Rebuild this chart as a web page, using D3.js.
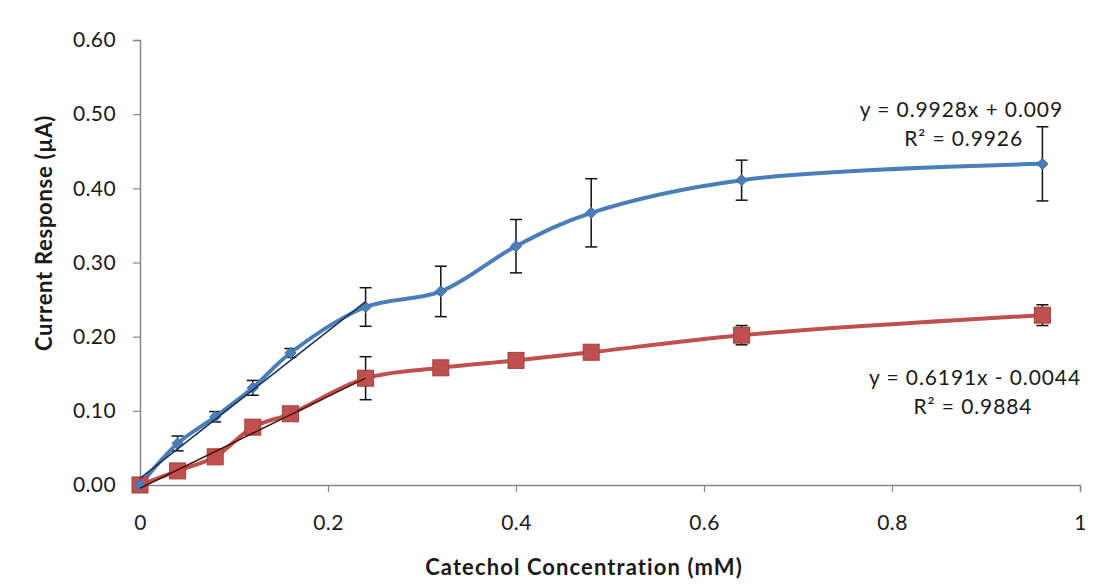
<!DOCTYPE html>
<html>
<head>
<meta charset="utf-8">
<script src="https://cdn.jsdelivr.net/npm/d3@7"></script>
<style>
  html, body { margin: 0; padding: 0; background: #ffffff; }
  svg { display: block; }
</style>
</head>
<body>
<svg id="chart" width="1104" height="585"></svg>
<script>
// Catechol concentration (mM)
const concentration = [0, 0.04, 0.08, 0.12, 0.16, 0.24, 0.32, 0.40, 0.48, 0.64, 0.96];

// Blue series: current response (µA) and its standard deviation
const blueValues = [0, 0.056, 0.092, 0.131, 0.178, 0.240, 0.261, 0.322, 0.367, 0.411, 0.433];
const blueErrors = [0, 0.010, 0.007, 0.010, 0.006, 0.026, 0.034, 0.036, 0.046, 0.027, 0.050];

// Red series: current response (µA) and its standard deviation
const redValues = [0, 0.019, 0.038, 0.078, 0.096, 0.144, 0.158, 0.168, 0.179, 0.202, 0.229];
const redErrors = [0, 0.004, 0.004, 0.005, 0.005, 0.029, 0.005, 0.004, 0.004, 0.013, 0.014];

// Linear fits over the low-concentration range
const blueFit = { slope: 0.9928, intercept: 0.009, xMax: 0.24 };
const redFit = { slope: 0.6191, intercept: -0.0044, xMax: 0.24 };
const blueEquation = ["y = 0.9928x + 0.009", "R² = 0.9926"];
const redEquation = ["y = 0.6191x - 0.0044", "R² = 0.9884"];

const xTicks = [0, 0.2, 0.4, 0.6, 0.8, 1];
const yTicks = [0, 0.1, 0.2, 0.3, 0.4, 0.5, 0.6];

const svg = d3.select("#chart");
const x = d3.scaleLinear().domain([0, 1]).range([140, 1080]);
const y = d3.scaleLinear().domain([0, 0.6]).range([485, 40]);

const axisColor = "#868686";
const labelFont = "Lato, 'Noto Sans', sans-serif";
const textColor = "#1a1a1a";

// Y axis
const yAxis = svg.append("g")
  .attr("transform", `translate(${x(0)},0)`)
  .call(d3.axisLeft(y).tickValues(yTicks).tickFormat(d3.format(".2f")).tickSize(7).tickPadding(17));
yAxis.select(".domain").attr("stroke", axisColor).attr("stroke-width", 1.5);
yAxis.selectAll(".tick line").attr("stroke", axisColor).attr("stroke-width", 1.2);
yAxis.selectAll(".tick text")
  .attr("font-family", labelFont).attr("font-size", 21).attr("letter-spacing", 0.4)
  .attr("fill", textColor);

// X axis
const xAxis = svg.append("g")
  .attr("transform", `translate(0,${y(0)})`)
  .call(d3.axisBottom(x).tickValues(xTicks).tickFormat(d => d3.format("")(d)).tickSize(7).tickPadding(23));
xAxis.select(".domain").attr("stroke", axisColor).attr("stroke-width", 1.5);
xAxis.selectAll(".tick line").attr("stroke", axisColor).attr("stroke-width", 1.2);
xAxis.selectAll(".tick text")
  .attr("font-family", labelFont).attr("font-size", 21).attr("letter-spacing", 0.4)
  .attr("fill", textColor);

// Axis titles
svg.append("text")
  .attr("transform", `translate(52,233) rotate(-90)`)
  .attr("text-anchor", "middle")
  .attr("font-family", labelFont).attr("font-weight", "bold").attr("font-size", 22)
  .attr("letter-spacing", 0.7)
  .attr("fill", textColor)
  .text("Current Response (µA)");
svg.append("text")
  .attr("x", 584).attr("y", 575)
  .attr("text-anchor", "middle")
  .attr("font-family", labelFont).attr("font-weight", "bold").attr("font-size", 22)
  .attr("letter-spacing", 1.1)
  .attr("fill", textColor)
  .text("Catechol Concentration (mM)");

const blue = concentration.map((c, i) => ({ c, v: blueValues[i], e: blueErrors[i] }));
const red = concentration.map((c, i) => ({ c, v: redValues[i], e: redErrors[i] }));

// Error bars
function errorBars(data) {
  const g = svg.append("g").attr("stroke", "#111").attr("stroke-width", 1.5);
  data.filter(d => d.e > 0).forEach(d => {
    const cx = x(d.c), top = y(d.v + d.e), bot = y(d.v - d.e);
    g.append("line").attr("x1", cx).attr("x2", cx).attr("y1", top).attr("y2", bot);
    g.append("line").attr("x1", cx - 6).attr("x2", cx + 6).attr("y1", top).attr("y2", top);
    g.append("line").attr("x1", cx - 6).attr("x2", cx + 6).attr("y1", bot).attr("y2", bot);
  });
}
errorBars(blue);
errorBars(red);

// Smoothed series lines
const line = d3.line().x(d => x(d.c)).y(d => y(d.v)).curve(d3.curveCatmullRom.alpha(0.5));
svg.append("path").datum(red).attr("d", line)
  .attr("fill", "none").attr("stroke", "#c0504d").attr("stroke-width", 4);
svg.append("path").datum(blue).attr("d", line)
  .attr("fill", "none").attr("stroke", "#4a7ebb").attr("stroke-width", 4);

// Markers
svg.append("g").selectAll("rect").data(red).join("rect")
  .attr("x", d => x(d.c) - 8).attr("y", d => y(d.v) - 8)
  .attr("width", 16).attr("height", 16)
  .attr("fill", "#c0504d").attr("stroke", "#a0403d").attr("stroke-width", 1);
const diamond = d3.symbol().type(d3.symbolDiamond2).size(80);
svg.append("g").selectAll("path").data(blue).join("path")
  .attr("transform", d => `translate(${x(d.c)},${y(d.v)})`)
  .attr("d", diamond)
  .attr("fill", "#4a7ebb").attr("stroke", "#3c6ea8").attr("stroke-width", 1);

// Linear trendlines
function trend(fit, color) {
  svg.append("line")
    .attr("x1", x(0)).attr("y1", y(fit.intercept))
    .attr("x2", x(fit.xMax)).attr("y2", y(fit.slope * fit.xMax + fit.intercept))
    .attr("stroke", color).attr("stroke-width", 1.5);
}
trend(blueFit, "#1e2f4a");
trend(redFit, "#4a1414");

// Trendline equations
function equation(lines, xs, ys, anchor) {
  lines.forEach((t, i) => {
    svg.append("text")
      .attr("x", xs[i]).attr("y", ys[i])
      .attr("text-anchor", anchor)
      .attr("font-family", labelFont).attr("font-size", 21).attr("letter-spacing", 0.9)
      .attr("fill", textColor)
      .text(t);
  });
}
equation(blueEquation, [1063, 1023], [117, 146], "end");
equation(redEquation, [975, 973], [385, 414], "middle");
</script>
</body>
</html>
